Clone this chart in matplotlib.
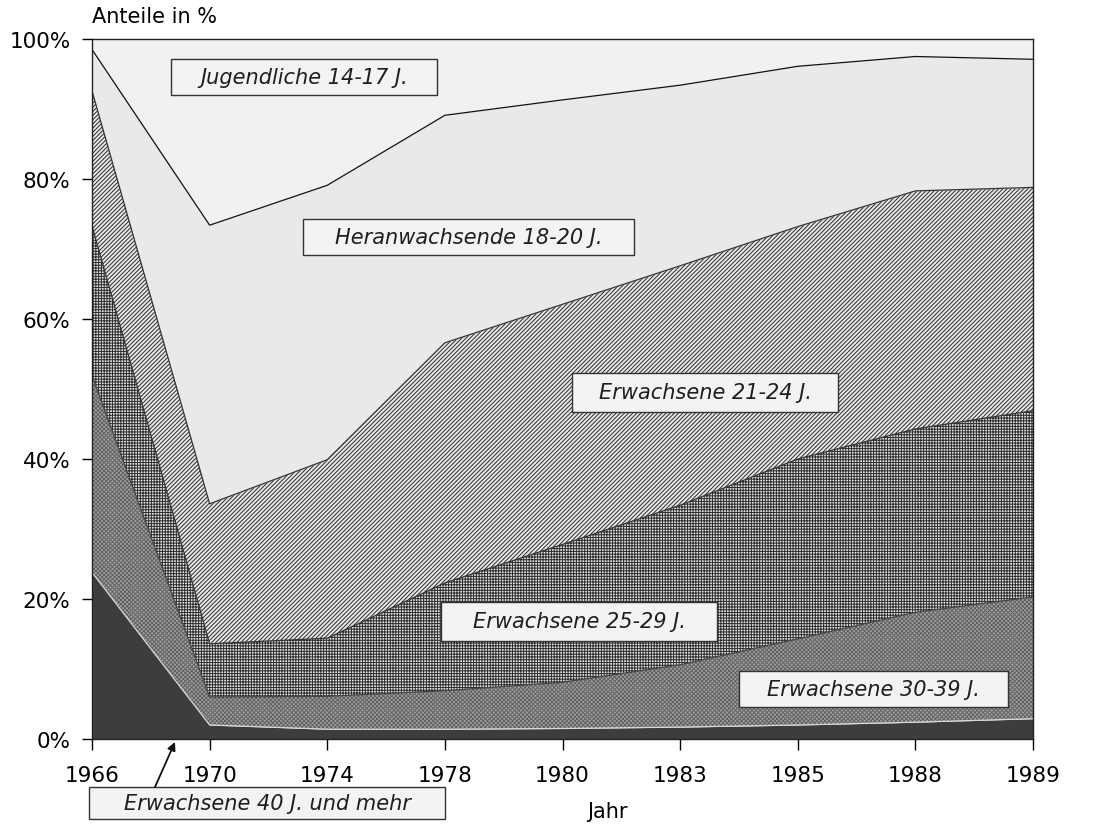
import matplotlib
matplotlib.use("Agg")
import matplotlib.pyplot as plt
import matplotlib.patches as patches
import numpy as np

# ==========================================
# DATEN (Anteile in %)
# ==========================================
jahre = ["1966", "1970", "1974", "1978", "1980", "1983", "1985", "1988", "1989"]

ab_40 = [23.8, 2.0, 1.4, 1.4, 1.5, 1.7, 2.0, 2.4, 2.9]
erw_30_39 = [28.1, 4.0, 4.7, 5.5, 6.6, 8.9, 12.3, 15.7, 17.4]
erw_25_29 = [21.4, 7.6, 8.3, 15.4, 19.7, 22.8, 25.7, 26.2, 26.6]
erw_21_24 = [19.3, 20.0, 25.5, 34.3, 34.3, 34.2, 33.2, 34.0, 31.9]
heran_18_20 = [5.9, 39.8, 39.2, 32.5, 29.2, 25.8, 22.9, 19.2, 18.3]
jugend_14_17 = [1.5, 26.6, 20.9, 10.9, 8.7, 6.6, 3.9, 2.5, 2.9]

gruppen = ["Erwachsene 40 J. und mehr", "Erwachsene 30-39 J.", "Erwachsene 25-29 J.",
           "Erwachsene 21-24 J.", "Heranwachsende 18-20 J.", "Jugendliche 14-17 J."]

# Stil je Schicht: (Füllfarbe, Schraffur, Schraffurfarbe, Randlinie)
stile = [
    ("#3d3d3d", None, "#3d3d3d", "#d8d8d8"),
    ("#a0a0a0", "xxxxxxxx", "#626262", "#444444"),
    ("#dedede", "++++++", "#2e2e2e", "#333333"),
    ("#e6e6e6", "////////", "#2c2c2c", "#333333"),
    ("#e9e9e9", None, "#e9e9e9", "#111111"),
    ("#f1f1f1", None, "#f1f1f1", None),
]

plt.rcParams['font.family'] = ['DejaVu Sans']
plt.rcParams['hatch.linewidth'] = 0.7

W, H = 1098, 829
fig = plt.figure(figsize=(W / 100, H / 100), dpi=100)
# Achsen: links 92 px, rechts 1033 px, oben 40 px, unten 740 px
ax = fig.add_axes([92 / W, 1 - 740 / H, 941 / W, 700 / H])

x = np.arange(len(jahre))
serien = [ab_40, erw_30_39, erw_25_29, erw_21_24, heran_18_20, jugend_14_17]
unten = np.zeros(len(jahre))
for werte, (fc, hatch, hc, lc) in zip(serien, stile):
    oben = unten + np.array(werte)
    ax.fill_between(x, unten, oben, facecolor=fc, hatch=hatch, edgecolor=hc,
                    linewidth=0, zorder=1)
    unten = oben

# Grenzlinien zwischen den Schichten
unten = np.zeros(len(jahre))
for werte, (fc, hatch, hc, lc) in zip(serien, stile):
    unten = unten + np.array(werte)
    if lc is not None:
        ax.plot(x, unten, color=lc, lw=0.9, zorder=2)

ax.set_xlim(0, len(jahre) - 1)
ax.set_ylim(0, 100)
ax.set_xticks(x)
ax.set_xticklabels(jahre)
ax.set_yticks([0, 20, 40, 60, 80, 100])
ax.set_yticklabels([f"{v}%" for v in [0, 20, 40, 60, 80, 100]])
ax.tick_params(axis='y', direction='out', length=7.5, width=1, labelsize=15.5, pad=8)
ax.tick_params(axis='x', direction='out', length=8, width=1, labelsize=15.5, pad=11)
for s in ax.spines.values():
    s.set_linewidth(1.0)
    s.set_color('#222222')
    s.set_zorder(5)

fig.text(92 / W, 1 - 17 / H, "Anteile in %", fontsize=15, va='center', ha='left')
fig.text(607 / W, 1 - 812 / H, "Jahr", fontsize=15, va='center', ha='center')

# --- Beschriftungskästen (Pixelkoordinaten x0, y0, x1, y1) ---
def _kasten(ax, txt, x0, y0, x1, y1):
    bx = (x0 - 92) / 941
    by = (740 - y1) / 700
    bw = (x1 - x0) / 941
    bh = (y1 - y0) / 700
    ax.add_patch(patches.Rectangle((bx, by), bw, bh, transform=ax.transAxes,
                                   facecolor='#f3f3f3', edgecolor='#333333',
                                   lw=1.0, zorder=6, clip_on=False))
    ax.text(bx + bw / 2, by + bh / 2, txt, transform=ax.transAxes, ha='center',
            va='center', fontsize=15, style='italic', color='#1e1e1e', zorder=7,
            clip_on=False)

kaesten = [
    (gruppen[5], 171, 60, 437, 96),
    (gruppen[4], 303, 220, 634, 256),
    (gruppen[3], 572, 374, 838, 413),
    (gruppen[2], 441, 603, 717, 642),
    (gruppen[1], 739, 672, 1008, 708),
    (gruppen[0], 89, 788, 445, 820),
]
for txt, x0, y0, x1, y1 in kaesten:
    _kasten(ax, txt, x0, y0, x1, y1)

# Pfeil zum untersten Band
ax.annotate('', xy=((175 - 92) / 941, (740 - 743) / 700),
            xytext=((155 - 92) / 941, (740 - 788) / 700),
            xycoords='axes fraction', textcoords='axes fraction',
            arrowprops=dict(arrowstyle='-|>', lw=1.3, color='#111111',
                            mutation_scale=12, shrinkA=0, shrinkB=0),
            annotation_clip=False, zorder=8)

fig.savefig("out.png", dpi=100)
plt.close(fig)
